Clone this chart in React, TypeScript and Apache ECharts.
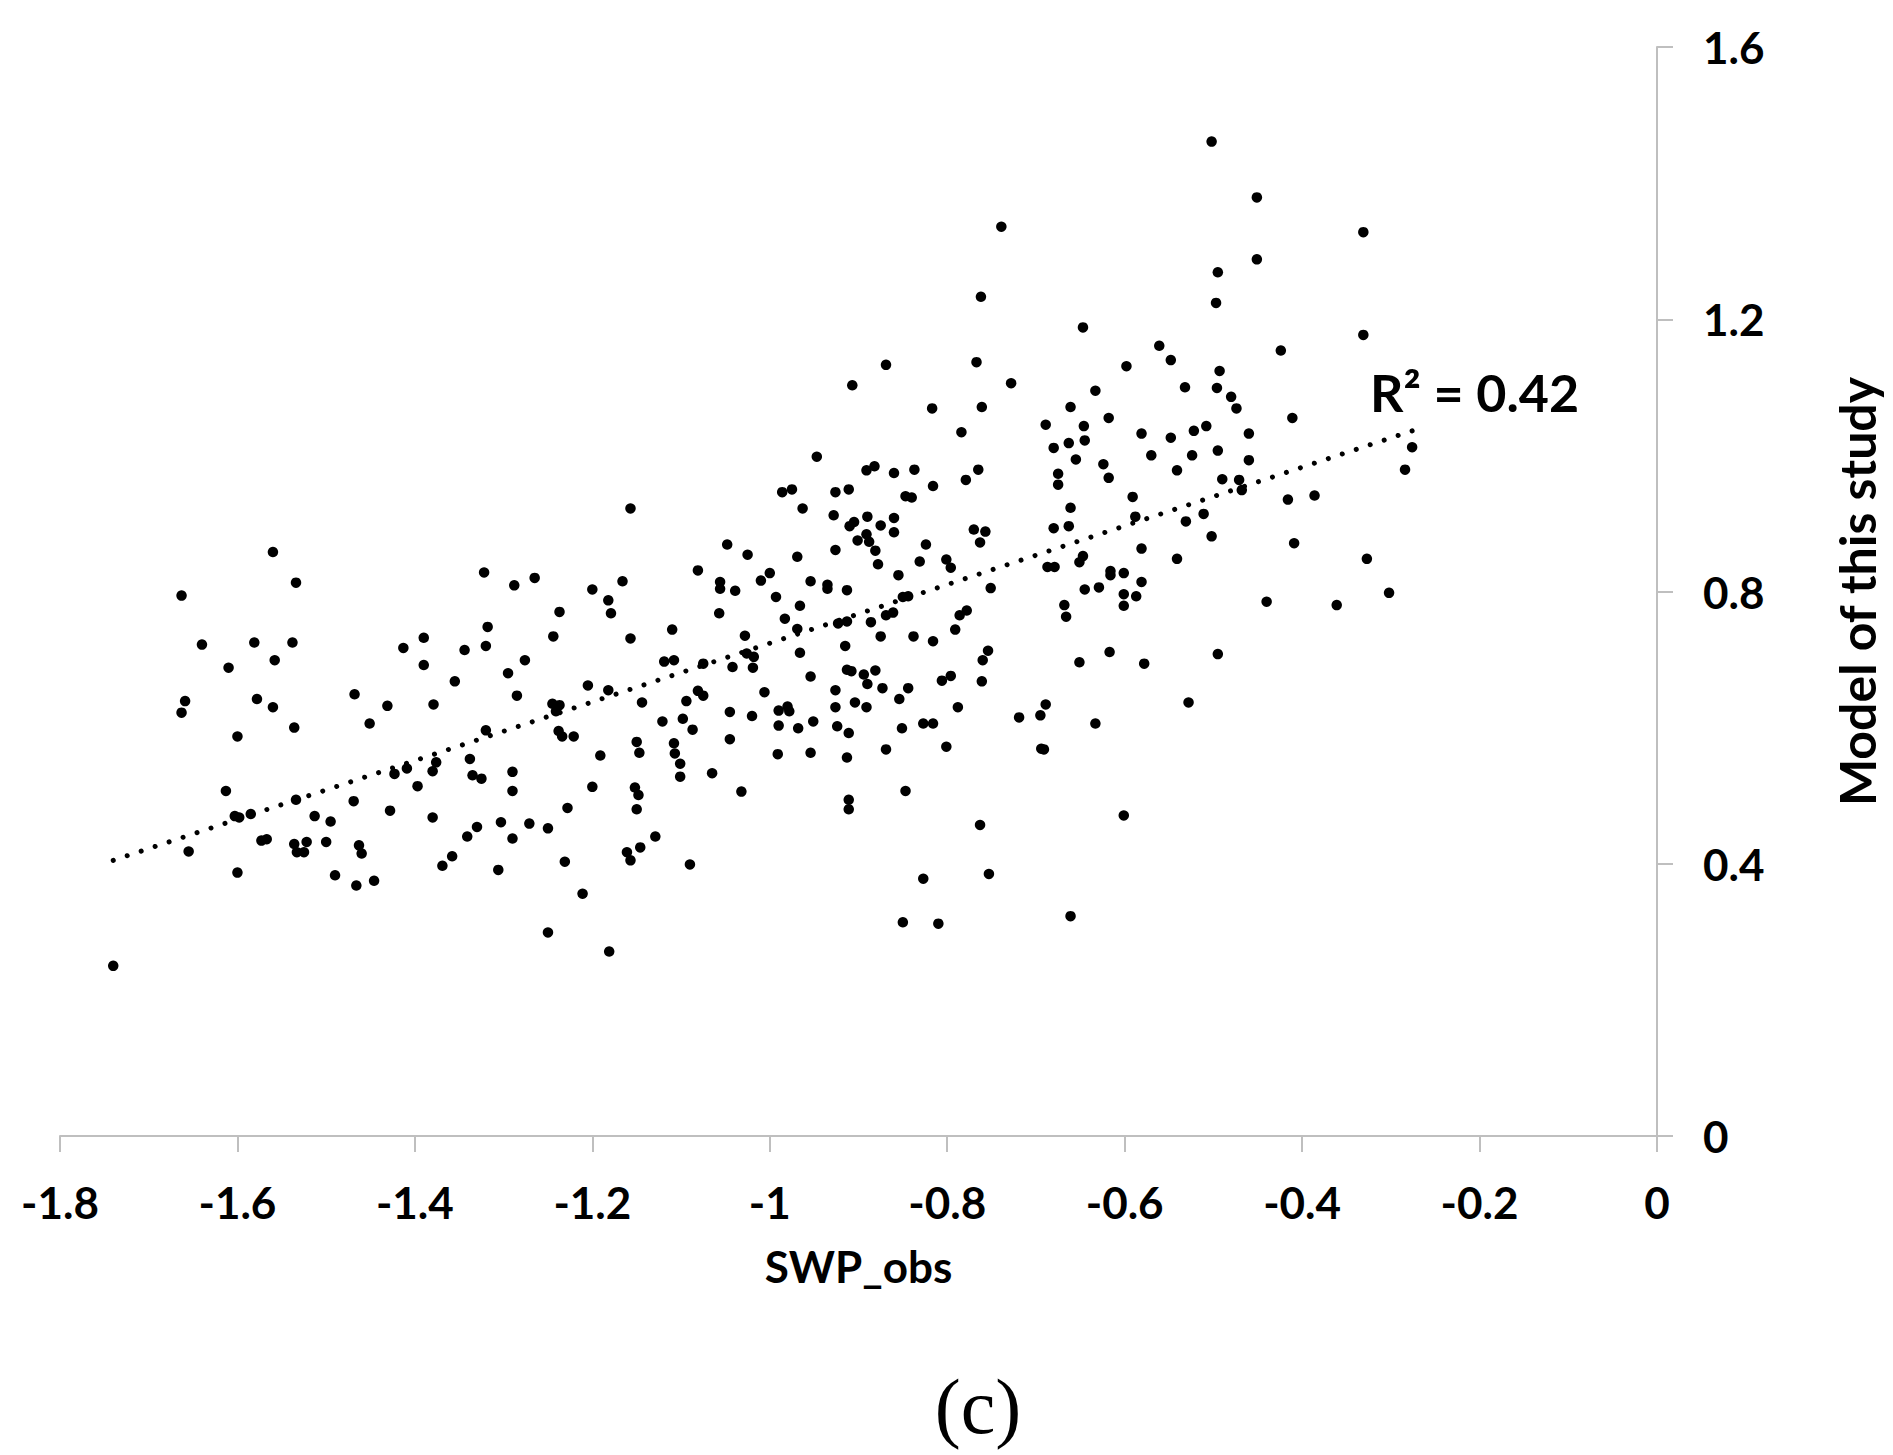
import React, { useEffect, useRef } from "react";
import * as echarts from "echarts";

const swpObs: number[] = [
  -1.560, -1.534, -1.663, -1.640, -1.581, -1.538, -1.558, -1.610, -1.390, -1.413,
  -1.390, -1.659, -1.663, -1.578, -1.560, -1.536, -1.600, -1.468, -1.431, -1.451,
  -1.613, -1.603, -1.598, -1.585, -1.534, -1.469, -1.423, -1.409, -1.397, -1.428,
  -1.513, -1.495, -1.655, -1.573, -1.567, -1.536, -1.522, -1.533, -1.525, -1.500,
  -1.463, -1.460, -1.600, -1.490, -1.466, -1.446, -1.740,
  -1.157, -1.048, -1.322, -1.288, -1.265, -1.200, -1.166, -1.182, -1.179, -1.081,
  -1.056, -1.056, -1.039, -1.057, -1.318, -1.237, -1.244, -1.157, -1.110, -1.379,
  -1.344, -1.320, -1.355, -1.295, -1.276, -1.285, -1.205, -1.182, -1.119, -1.108,
  -1.075, -1.042, -1.245, -1.237, -1.241, -1.144, -1.094, -1.081, -1.075, -1.045,
  -1.121, -1.098, -1.087, -1.045, -1.320, -1.238, -1.234, -1.221, -1.150, -1.147,
  -1.191, -1.108, -1.107, -1.101, -1.101, -1.065, -1.032, -1.376, -1.380, -1.338,
  -1.335, -1.325, -1.290, -1.290, -1.200, -1.152, -1.148, -1.150, -1.380, -1.228,
  -1.341, -1.330, -1.303, -1.290, -1.271, -1.250, -1.369, -1.358, -1.306, -1.231,
  -1.211, -1.250, -1.181, -1.161, -1.157, -1.146, -1.129, -1.090,
  -0.739, -0.762, -0.767, -0.728, -0.869, -0.907, -0.817, -0.761, -0.689, -0.784,
  -0.680, -0.675, -0.675, -0.947, -0.891, -0.882, -0.860, -0.837, -0.765, -0.779,
  -0.816, -0.986, -0.975, -0.926, -0.911, -0.847, -0.840, -0.963, -0.928, -0.910,
  -0.905, -0.890, -0.860, -0.860, -0.875, -0.901, -0.891, -0.888, -0.881, -0.926,
  -0.770, -0.757, -0.763, -0.680, -0.824, -1.025, -0.969, -0.831, -0.801, -0.796,
  -0.878, -1.000, -1.010, -0.954, -0.935, -0.935, -0.855, -0.687, -0.679, -0.751,
  -0.913, -0.993, -0.966, -0.850, -0.844, -0.983, -0.969, -1.028, -1.026, -1.018,
  -1.019, -0.966, -0.923, -0.913, -0.886, -0.915, -0.875, -0.869, -0.861, -0.838,
  -0.816, -0.786, -0.778, -0.791, -0.754, -0.760, -0.761, -0.954, -0.913, -0.908,
  -0.894, -0.890, -0.881, -0.873, -0.844, -0.854, -0.806, -0.796, -0.926, -1.006,
  -0.926, -0.904, -0.891, -0.990, -0.980, -0.978, -1.020, -0.990, -0.968, -0.951,
  -0.924, -0.911, -0.851, -0.827, -0.816, -0.788, -0.991, -0.954, -0.913, -0.869,
  -0.801, -0.719, -0.695, -0.689, -0.694, -0.691, -0.847, -0.911, -0.911, -0.763,
  -0.827, -0.753, -0.850, -0.810,
  -0.502, -0.451, -0.331, -0.451, -0.495, -0.497, -0.647, -0.331, -0.561, -0.548,
  -0.424, -0.598, -0.493, -0.633, -0.532, -0.496, -0.480, -0.474, -0.661, -0.618,
  -0.411, -0.646, -0.645, -0.663, -0.581, -0.548, -0.522, -0.508, -0.460, -0.495,
  -0.570, -0.524, -0.460, -0.655, -0.624, -0.618, -0.541, -0.490, -0.471, -0.468,
  -0.276, -0.284, -0.416, -0.386, -0.591, -0.661, -0.663, -0.588, -0.531, -0.511,
  -0.502, -0.581, -0.409, -0.541, -0.327, -0.651, -0.647, -0.616, -0.616, -0.601,
  -0.645, -0.629, -0.581,
  -0.601, -0.587, -0.601, -0.668, -0.666, -0.440, -0.361, -0.302, -0.651, -0.617,
  -0.578, -0.495, -0.528, -0.633, -0.601, -0.661,
];

const modelStudy: number[] = [
  0.858, 0.813, 0.794, 0.722, 0.725, 0.725, 0.699, 0.688, 0.732, 0.717,
  0.692, 0.639, 0.622, 0.642, 0.630, 0.600, 0.587, 0.649, 0.632, 0.606,
  0.507, 0.470, 0.468, 0.473, 0.494, 0.492, 0.532, 0.540, 0.514, 0.478,
  0.470, 0.462, 0.418, 0.434, 0.436, 0.429, 0.432, 0.417, 0.417, 0.432,
  0.427, 0.415, 0.387, 0.383, 0.368, 0.375, 0.250,
  0.922, 0.869, 0.828, 0.809, 0.820, 0.803, 0.815, 0.787, 0.768, 0.831,
  0.814, 0.804, 0.801, 0.768, 0.748, 0.770, 0.734, 0.731, 0.744, 0.634,
  0.714, 0.720, 0.668, 0.680, 0.699, 0.647, 0.662, 0.655, 0.697, 0.699,
  0.694, 0.689, 0.635, 0.633, 0.624, 0.637, 0.639, 0.654, 0.647, 0.623,
  0.609, 0.613, 0.597, 0.583, 0.596, 0.595, 0.587, 0.587, 0.579, 0.563,
  0.559, 0.577, 0.562, 0.547, 0.528, 0.533, 0.506, 0.549, 0.536, 0.554,
  0.530, 0.525, 0.535, 0.507, 0.513, 0.512, 0.501, 0.480, 0.468, 0.482,
  0.440, 0.454, 0.461, 0.437, 0.459, 0.452, 0.397, 0.411, 0.391, 0.403,
  0.356, 0.299, 0.271, 0.417, 0.405, 0.424, 0.440, 0.399,
  1.336, 1.233, 1.137, 1.106, 1.133, 1.103, 1.069, 1.071, 1.045, 1.034,
  1.011, 0.973, 0.957, 0.998, 0.978, 0.984, 0.974, 0.979, 0.979, 0.964,
  0.955, 0.946, 0.950, 0.946, 0.950, 0.940, 0.938, 0.922, 0.912, 0.896,
  0.902, 0.910, 0.908, 0.887, 0.897, 0.875, 0.884, 0.873, 0.860, 0.861,
  0.891, 0.888, 0.872, 0.893, 0.869, 0.854, 0.851, 0.844, 0.847, 0.835,
  0.840, 0.827, 0.816, 0.815, 0.810, 0.804, 0.824, 0.836, 0.836, 0.805,
  0.802, 0.792, 0.779, 0.792, 0.793, 0.760, 0.745, 0.735, 0.709, 0.704,
  0.688, 0.710, 0.753, 0.756, 0.755, 0.720, 0.734, 0.765, 0.769, 0.734,
  0.727, 0.765, 0.772, 0.744, 0.713, 0.699, 0.668, 0.675, 0.685, 0.683,
  0.678, 0.664, 0.684, 0.658, 0.658, 0.642, 0.669, 0.676, 0.655, 0.652,
  0.630, 0.637, 0.630, 0.625, 0.631, 0.624, 0.617, 0.603, 0.599, 0.609,
  0.602, 0.592, 0.599, 0.606, 0.606, 0.630, 0.561, 0.563, 0.556, 0.568,
  0.572, 0.615, 0.618, 0.634, 0.569, 0.568, 0.507, 0.494, 0.480, 0.457,
  0.378, 0.385, 0.314, 0.312,
  1.461, 1.379, 1.328, 1.288, 1.269, 1.224, 1.188, 1.177, 1.161, 1.140,
  1.154, 1.131, 1.124, 1.095, 1.100, 1.099, 1.086, 1.069, 1.071, 1.055,
  1.055, 1.043, 1.022, 1.018, 1.032, 1.026, 1.036, 1.043, 1.032, 1.007,
  1.000, 1.000, 0.993, 0.994, 0.987, 0.967, 0.978, 0.965, 0.964, 0.949,
  1.012, 0.979, 0.935, 0.941, 0.939, 0.923, 0.896, 0.910, 0.903, 0.914,
  0.881, 0.863, 0.871, 0.848, 0.848, 0.843, 0.852, 0.830, 0.824, 0.827,
  0.803, 0.806, 0.814,
  0.796, 0.793, 0.779, 0.780, 0.763, 0.785, 0.780, 0.798, 0.696, 0.711,
  0.694, 0.708, 0.637, 0.606, 0.471, 0.323,
];

// Dotted linear trendline end points
const trendX: number[] = [-1.74, -0.276];
const trendY: number[] = [0.405, 1.036];

const xTicks: number[] = [-1.8, -1.6, -1.4, -1.2, -1, -0.8, -0.6, -0.4, -0.2, 0];
const yTicks: number[] = [0, 0.4, 0.8, 1.2, 1.6];

const xTitle = "SWP_obs";
const yTitle = "Model of this study";
const r2Label = "R\u00B2 = 0.42";
const panelLabel = "(c)";

const FONT = "Lato";

export default function App() {
  const ref = useRef<HTMLDivElement>(null);

  useEffect(() => {
    if (!ref.current) return;
    document.body.style.margin = "0";
    const chart = echarts.init(ref.current, null, { renderer: "svg" });

    const points = swpObs.map((x, i) => [x, modelStudy[i]]);
    const trend = trendX.map((x, i) => [x, trendY[i]]);

    const axisColor = "#bfbfbf";
    const labelStyle = {
      fontFamily: FONT,
      fontWeight: "bold" as const,
      fontSize: 44,
      color: "#000",
    };

    chart.setOption({
      animation: false,
      backgroundColor: "#ffffff",
      grid: { left: 60, right: 236, top: 47, bottom: 319, containLabel: false },
      xAxis: {
        type: "value",
        min: xTicks[0],
        max: xTicks[xTicks.length - 1],
        interval: 0.2,
        name: xTitle,
        nameLocation: "middle",
        nameGap: 108,
        nameTextStyle: { ...labelStyle, fontSize: 44 },
        axisLine: { onZero: false, lineStyle: { color: axisColor, width: 2 } },
        axisTick: { show: true, length: 16, lineStyle: { color: axisColor, width: 2 } },
        axisLabel: { ...labelStyle, margin: 44 },
        splitLine: { show: false },
      },
      yAxis: {
        type: "value",
        position: "right",
        min: yTicks[0],
        max: yTicks[yTicks.length - 1],
        interval: 0.4,
        name: yTitle,
        nameLocation: "middle",
        nameRotate: 90,
        nameGap: 175,
        nameTextStyle: { ...labelStyle, fontSize: 50 },
        axisLine: { onZero: false, lineStyle: { color: axisColor, width: 2 } },
        axisTick: { show: true, length: 16, lineStyle: { color: axisColor, width: 2 } },
        axisLabel: { ...labelStyle, margin: 46 },
        splitLine: { show: false },
      },
      series: [
        {
          type: "scatter",
          data: points,
          symbol: "circle",
          symbolSize: 10.5,
          itemStyle: { color: "#000", opacity: 1 },
          z: 2,
        },
        {
          type: "line",
          data: trend,
          showSymbol: false,
          symbol: "none",
          lineStyle: { color: "#000", width: 5, type: [0.01, 14.7], cap: "round" },
          z: 3,
        },
      ],
      graphic: [
        {
          type: "text",
          left: 1370,
          top: 366,
          style: {
            text: r2Label,
            fontFamily: FONT,
            fontWeight: "bold",
            fontSize: 52,
            fill: "#000",
          },
        },
        {
          type: "text",
          x: 978,
          y: 1406,
          style: {
            text: panelLabel,
            fontFamily: "Liberation Serif",
            fontSize: 78,
            fill: "#000",
            align: "center",
            verticalAlign: "middle",
          },
        },
      ],
    });

    return () => chart.dispose();
  }, []);

  return (
    <div
      ref={ref}
      style={{ position: "fixed", left: 0, top: 0, width: 1893, height: 1455, background: "#fff" }}
    />
  );
}
